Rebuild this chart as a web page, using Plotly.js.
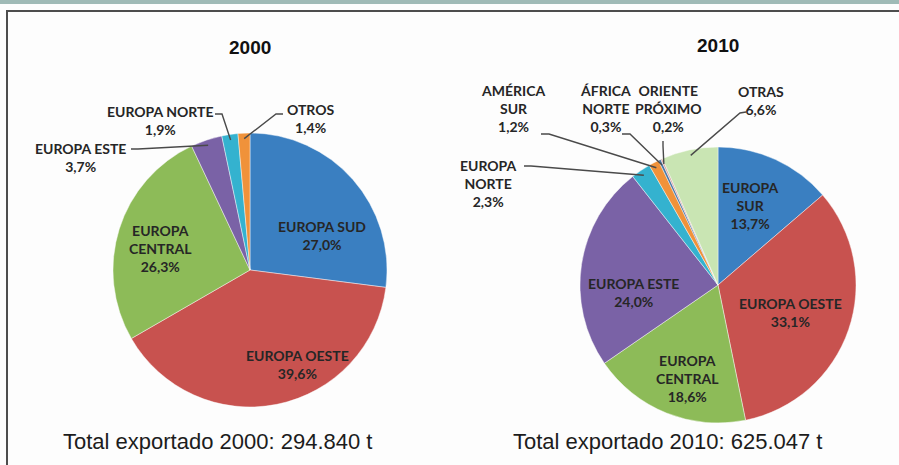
<!DOCTYPE html>
<html><head><meta charset="utf-8">
<script src="https://cdn.plot.ly/plotly-3.0.1.min.js"></script>
<style>
html,body{margin:0;padding:0;background:#fdfdfd;overflow:hidden;width:899px;height:465px;scrollbar-width:none;}
::-webkit-scrollbar{display:none;width:0;height:0;}
#wrap{position:relative;width:899px;height:465px;overflow:hidden;}
#chart{position:absolute;left:0;top:0;width:899px;height:465px;}
#band{position:absolute;left:0;top:0;width:899px;height:4px;background:#9fbab6;pointer-events:none;}
#frame{position:absolute;left:6px;top:10px;width:900px;height:470px;border-left:2px solid #4d4d4d;border-top:2px solid #4d4d4d;pointer-events:none;}
</style>
</head><body><div id="wrap"><div id="chart"></div><div id="band"></div><div id="frame"></div></div>
<script>
// ---------- DATA ----------
const years = ["2000", "2010"];
const totals = ["294.840", "625.047"];

const labels2000 = ["EUROPA SUD", "EUROPA OESTE", "EUROPA CENTRAL", "EUROPA ESTE", "EUROPA NORTE", "OTROS"];
const values2000 = [27.0, 39.6, 26.3, 3.7, 1.9, 1.4];

const labels2010 = ["EUROPA SUR", "EUROPA OESTE", "EUROPA CENTRAL", "EUROPA ESTE", "EUROPA NORTE",
                    "AMÉRICA SUR", "ÁFRICA NORTE", "ORIENTE PRÓXIMO", "OTRAS"];
const values2010 = [13.7, 33.1, 18.6, 24.0, 2.3, 1.2, 0.3, 0.2, 6.6];

// ---------- STYLE / LAYOUT ----------
const W = 899, H = 465;
const colors2000 = ["#3a7fc1", "#c8524f", "#8dbb58", "#7a62a6", "#34b2cf", "#f0923a"];
const colors2010 = ["#3a7fc1", "#c8524f", "#8dbb58", "#7a62a6", "#34b2cf", "#f0923a", "#4a78a8", "#d9a3a0", "#c9e5b3"];

// how each label is broken into lines
const breaks2000 = ["EUROPA SUD", "EUROPA OESTE", "EUROPA<br>CENTRAL", "EUROPA ESTE", "EUROPA NORTE", "OTROS"];
const breaks2010 = ["EUROPA<br>SUR", "EUROPA OESTE", "EUROPA<br>CENTRAL", "EUROPA ESTE", "EUROPA<br>NORTE",
                    "AMÉRICA<br>SUR", "ÁFRICA<br>NORTE", "ORIENTE<br>PRÓXIMO", "OTRAS"];

// pie geometry in pixels
const pies = [
  {cx: 250, cy: 270, r: 137, titleY: 47, totalX: 217},
  {cx: 718, cy: 285, r: 138, titleY: 45, totalX: 667}
];
// label text-block centres in pixels
const pos2000 = [[322, 235], [297, 364], [160, 248], [80, 157], [160, 120], [311, 119]];
const pos2010 = [[750, 205], [790, 312], [687, 378], [633, 292], [488, 183], [513, 108], [605, 108], [668, 109], [761, 100]];
// leader lines: [startX, startY, elbowX, elbowY] or null for inside labels
const lead2000 = [null, null, null, [131, 149, 138, 149], [215, 114, 222, 114], [283, 114, 276, 114]];
const lead2010 = [null, null, null, null, [524, 166, 531, 166], [541, 134, 549, 134], [622, 134, 630, 134],
                  [663, 141, 663, 146], [746, 112, 740, 113]];

const px = x => x / W;
const py = y => 1 - y / H;
const pct = v => v.toFixed(1).replace('.', ',') + '%';

function domainOf(p) {
  return {x: [px(p.cx - p.r), px(p.cx + p.r)], y: [py(p.cy + p.r), py(p.cy - p.r)]};
}

function tipPoint(values, i, p, frac) {
  const tot = values.reduce((a, b) => a + b, 0);
  let cum = 0;
  for (let k = 0; k < i; k++) cum += values[k];
  const th = 2 * Math.PI * (cum + values[i] / 2) / tot;
  return [p.cx + p.r * frac * Math.sin(th), p.cy - p.r * frac * Math.cos(th)];
}

const traces = [
  {type: 'pie', labels: labels2000, values: values2000, sort: false, direction: 'clockwise', rotation: 0,
   marker: {colors: colors2000, line: {color: 'rgba(255,255,255,0.55)', width: 0.8}},
   textinfo: 'none', hoverinfo: 'skip', showlegend: false, domain: domainOf(pies[0])},
  {type: 'pie', labels: labels2010, values: values2010, sort: false, direction: 'clockwise', rotation: 0,
   marker: {colors: colors2010, line: {color: 'rgba(255,255,255,0.55)', width: 0.8}},
   textinfo: 'none', hoverinfo: 'skip', showlegend: false, domain: domainOf(pies[1])}
];

const annotations = [];
const shapes = [];

const labelFont = {family: 'Lato, "Open Sans", sans-serif', size: 14, color: '#262626', weight: 'bold'};

function addLabels(labelsBr, values, pos, lead, p) {
  labelsBr.forEach((lb, i) => {
    annotations.push({xref: 'paper', yref: 'paper', x: px(pos[i][0]), y: py(pos[i][1]),
      xanchor: 'center', yanchor: 'middle', showarrow: false, align: 'center',
      text: lb + '<br>' + pct(values[i]), font: labelFont});
    if (lead[i]) {
      const t = tipPoint(values, i, p, 0.96);
      const L = lead[i];
      shapes.push({type: 'path', xref: 'paper', yref: 'paper',
        path: 'M' + px(L[0]) + ',' + py(L[1]) + ' L' + px(L[2]) + ',' + py(L[3]) + ' L' + px(t[0]) + ',' + py(t[1]),
        line: {color: '#4a4a4a', width: 1.4}});
    }
  });
}
addLabels(breaks2000, values2000, pos2000, lead2000, pies[0]);
addLabels(breaks2010, values2010, pos2010, lead2010, pies[1]);

years.forEach((yr, k) => {
  const p = pies[k];
  annotations.push({xref: 'paper', yref: 'paper', x: px(p.cx), y: py(p.titleY), xanchor: 'center', yanchor: 'middle',
    showarrow: false, text: '<b>' + yr + '</b>',
    font: {family: '"Liberation Sans", Arial, sans-serif', size: 19, color: '#111'}});
  annotations.push({xref: 'paper', yref: 'paper', x: px(p.totalX), y: py(441), xanchor: 'center', yanchor: 'middle',
    showarrow: false, text: 'Total exportado ' + yr + ': ' + totals[k] + ' t',
    font: {family: '"Liberation Sans", Arial, sans-serif', size: 22, color: '#1c1c1c'}});
});

const layout = {
  width: W, height: H, margin: {l: 0, r: 0, t: 0, b: 0},
  paper_bgcolor: '#fdfdfd', plot_bgcolor: '#fdfdfd',
  showlegend: false, annotations: annotations, shapes: shapes
};
Plotly.newPlot('chart', traces, layout, {displayModeBar: false, staticPlot: true});
</script>
</body></html>
